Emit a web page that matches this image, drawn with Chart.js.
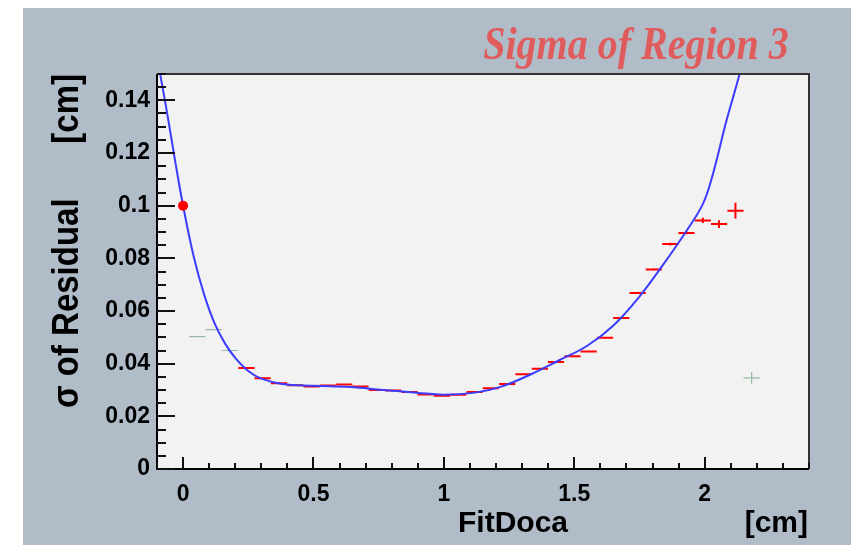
<!DOCTYPE html>
<html lang="en">
<head>
  <meta charset="utf-8">
  <title>Sigma of Region 3</title>
  <script src="https://cdn.jsdelivr.net/npm/chart.js"></script>
  <style>
    html, body { margin: 0; padding: 0; background: #fff; }
  </style>
</head>
<body>
<canvas id="sigmaChart" width="851" height="545"></canvas>

<script>
  // tick values / labels
  const xTickValues = [0, 0.5, 1, 1.5, 2];
  const xTickLabels = ['0', '0.5', '1', '1.5', '2'];
  const yTickValues = [0, 0.02, 0.04, 0.06, 0.08, 0.1, 0.12, 0.14];
  const yTickLabels = ['0', '0.02', '0.04', '0.06', '0.08', '0.1', '0.12', '0.14'];

  // bins used in the fit (red)
  const redX = [0.243, 0.305, 0.368, 0.43, 0.493, 0.555, 0.618, 0.68, 0.743, 0.805,
                0.868, 0.93, 0.993, 1.055, 1.118, 1.18, 1.243, 1.305, 1.368, 1.43,
                1.493, 1.555, 1.618, 1.68, 1.743, 1.805, 1.868, 1.93, 1.993, 2.055, 2.118];
  const redY = [0.0384, 0.0345, 0.0326, 0.0318, 0.0313, 0.0317, 0.0321, 0.0313, 0.0300, 0.0298,
                0.0292, 0.0283, 0.0278, 0.0282, 0.0292, 0.0307, 0.0323, 0.0360, 0.0381, 0.0406,
                0.0428, 0.0446, 0.0498, 0.0573, 0.0668, 0.0758, 0.0854, 0.0896, 0.0944, 0.0930, 0.0981];
  const redYErr = [0.0002, 0.0002, 0.0002, 0.0002, 0.0002, 0.0002, 0.0002, 0.0002, 0.0002, 0.0002,
                   0.0002, 0.0002, 0.0002, 0.0002, 0.0002, 0.0002, 0.0002, 0.0002, 0.0002, 0.0002,
                   0.0002, 0.0002, 0.0002, 0.0003, 0.0003, 0.0004, 0.0005, 0.0005, 0.001, 0.0015, 0.003];

  // bins excluded from the fit (green)
  const greenX = [0.055, 0.118, 0.18, 2.18];
  const greenY = [0.0503, 0.0529, 0.0450, 0.0346];
  const greenYErr = [0.0002, 0.0002, 0.0002, 0.0022];

  const binHalfWidth = 0.031;

  // fixed point at zero
  const dotX = [0];
  const dotY = [0.1];

  // fit curve
  const fitX = [-0.088, -0.06, -0.03, 0, 0.04, 0.08, 0.12, 0.16, 0.2, 0.25,
                0.3, 0.38, 0.5, 0.64, 0.767, 0.895, 1.0, 1.12, 1.22, 1.33,
                1.44, 1.55, 1.65, 1.75, 1.84, 1.93, 1.99, 2.02, 2.05, 2.08, 2.11, 2.134];
  const fitY = [0.150, 0.1345, 0.1167, 0.100, 0.081, 0.0665, 0.0555, 0.0478, 0.0422, 0.0372,
                0.0343, 0.0323, 0.0316, 0.0311, 0.0300, 0.0290, 0.0282, 0.0290, 0.0313, 0.0358,
                0.0412, 0.0468, 0.0545, 0.0655, 0.0775, 0.0904, 0.1000, 0.1080, 0.1190, 0.1310, 0.1415, 0.150];

  const zip = (xs, ys) => xs.map((x, i) => ({x: x, y: ys[i]}));

  const rootStyle = {
    id: 'rootStyle',
    beforeDraw(chart) {
      const ctx = chart.ctx, a = chart.chartArea;
      ctx.save();
      ctx.fillStyle = '#ffffff';
      ctx.fillRect(0, 0, chart.width, chart.height);
      ctx.fillStyle = '#b0bdc9';
      ctx.fillRect(23, 8, chart.width - 23, chart.height - 8);
      ctx.fillStyle = '#f2f2f2';
      ctx.fillRect(a.left, a.top, a.right - a.left, a.bottom - a.top);
      ctx.restore();
    },
    beforeDatasetsDraw(chart) {
      const ctx = chart.ctx, xs = chart.scales.x, ys = chart.scales.y;
      ctx.save();
      chart.data.datasets.forEach(ds => {
        if (!ds.yErr) return;
        ctx.strokeStyle = ds.errColor;
        ctx.lineWidth = ds.errWidth;
        ds.data.forEach((p, i) => {
          const px = xs.getPixelForValue(p.x), py = ys.getPixelForValue(p.y);
          ctx.beginPath();
          ctx.moveTo(xs.getPixelForValue(p.x - binHalfWidth), py);
          ctx.lineTo(xs.getPixelForValue(p.x + binHalfWidth), py);
          ctx.moveTo(px, ys.getPixelForValue(p.y - ds.yErr[i]));
          ctx.lineTo(px, ys.getPixelForValue(p.y + ds.yErr[i]));
          ctx.stroke();
        });
      });
      ctx.restore();
    },
    afterDraw(chart) {
      const ctx = chart.ctx, a = chart.chartArea, xs = chart.scales.x, ys = chart.scales.y;
      ctx.save();
      // frame
      ctx.strokeStyle = '#333';
      ctx.lineWidth = 2;
      ctx.beginPath();
      ctx.moveTo(a.left, a.top);
      ctx.lineTo(a.right, a.top);
      ctx.lineTo(a.right, a.bottom);
      ctx.stroke();
      ctx.strokeStyle = '#000';
      ctx.beginPath();
      ctx.moveTo(a.left, a.top);
      ctx.lineTo(a.left, a.bottom);
      ctx.lineTo(a.right, a.bottom);
      ctx.stroke();

      // inward ticks
      ctx.lineWidth = 2;
      ctx.strokeStyle = '#111';
      ctx.beginPath();
      for (let i = 0; i <= 30; i++) {
        const py = Math.round(ys.getPixelForValue(i * 0.005));
        const len = i % 4 === 0 ? 18 : 9;
        ctx.moveTo(a.left, py);
        ctx.lineTo(a.left + len, py);
      }
      for (let i = -1; i <= 24; i++) {
        const px = Math.round(xs.getPixelForValue(i * 0.1));
        const len = i % 5 === 0 ? 12 : 6;
        ctx.moveTo(px, a.bottom);
        ctx.lineTo(px, a.bottom - len);
      }
      ctx.stroke();

      // title
      ctx.fillStyle = '#e05c5c';
      ctx.font = 'italic bold 40px "Liberation Serif", "Times New Roman", serif';
      ctx.textAlign = 'center';
      ctx.textBaseline = 'alphabetic';
      ctx.save();
      ctx.translate(636, 59);
      ctx.scale(1, 1.15);
      ctx.fillText('Sigma of Region 3', 0, 0);
      ctx.restore();

      // x axis title
      ctx.fillStyle = '#000';
      ctx.font = 'bold 30px "Liberation Sans", Arial, sans-serif';
      ctx.textAlign = 'left';
      ctx.fillText('FitDoca', 458, 532);
      ctx.textAlign = 'right';
      ctx.fillText('[cm]', 808, 532);

      // y axis title
      ctx.font = 'bold 33px "Liberation Sans", Arial, sans-serif';
      ctx.save();
      ctx.translate(78, 408);
      ctx.rotate(-Math.PI / 2);
      ctx.scale(1, 1.1);
      ctx.textAlign = 'left';
      ctx.fillText('\u03c3 of Residual', 0, 0);
      ctx.restore();
      ctx.save();
      ctx.translate(78, 74);
      ctx.rotate(-Math.PI / 2);
      ctx.scale(1, 1.1);
      ctx.textAlign = 'right';
      ctx.fillText('[cm]', 0, 0);
      ctx.restore();

      ctx.restore();
    }
  };

  const tickFont = {family: '"Liberation Sans", Arial, sans-serif', weight: 'bold', size: 23};

  new Chart(document.getElementById('sigmaChart'), {
    type: 'scatter',
    data: {
      datasets: [
        {
          label: 'point at zero',
          data: zip(dotX, dotY),
          pointRadius: 5,
          pointBackgroundColor: '#ff0000',
          pointBorderWidth: 0,
          order: 0
        },
        {
          label: 'fit',
          data: zip(fitX, fitY),
          showLine: true,
          pointRadius: 0,
          borderColor: '#3c3cff',
          borderWidth: 2,
          tension: 0.4,
          order: 1
        },
        {
          label: 'fitted bins',
          data: zip(redX, redY),
          pointRadius: 0,
          yErr: redYErr,
          errColor: '#ff0000',
          errWidth: 2,
          order: 2
        },
        {
          label: 'excluded bins',
          data: zip(greenX, greenY),
          pointRadius: 0,
          yErr: greenYErr,
          errColor: 'rgba(110,160,130,0.7)',
          errWidth: 1.2,
          order: 3
        }
      ]
    },
    options: {
      responsive: false,
      animation: false,
      events: [],
      devicePixelRatio: 1,
      layout: {padding: {left: 0, right: 42, top: 74, bottom: 0}},
      plugins: {
        legend: {display: false},
        tooltip: {enabled: false}
      },
      scales: {
        x: {
          type: 'linear',
          min: -0.1,
          max: 2.4,
          afterBuildTicks: s => { s.ticks = xTickValues.map(v => ({value: v})); },
          afterFit: s => { s.height = 76; },
          grid: {display: false, drawTicks: false},
          border: {display: false},
          ticks: {
            padding: 12,
            color: '#000',
            font: tickFont,
            autoSkip: false,
            maxRotation: 0,
            callback: (v, i) => xTickLabels[i]
          }
        },
        y: {
          type: 'linear',
          min: 0,
          max: 0.15,
          afterBuildTicks: s => { s.ticks = yTickValues.map(v => ({value: v})); },
          afterFit: s => { s.width = 157; },
          grid: {display: false, drawTicks: false},
          border: {display: false},
          ticks: {
            padding: 7,
            color: '#000',
            font: tickFont,
            autoSkip: false,
            callback: (v, i) => yTickLabels[i]
          }
        }
      }
    },
    plugins: [rootStyle]
  });
</script>

</body>
</html>
